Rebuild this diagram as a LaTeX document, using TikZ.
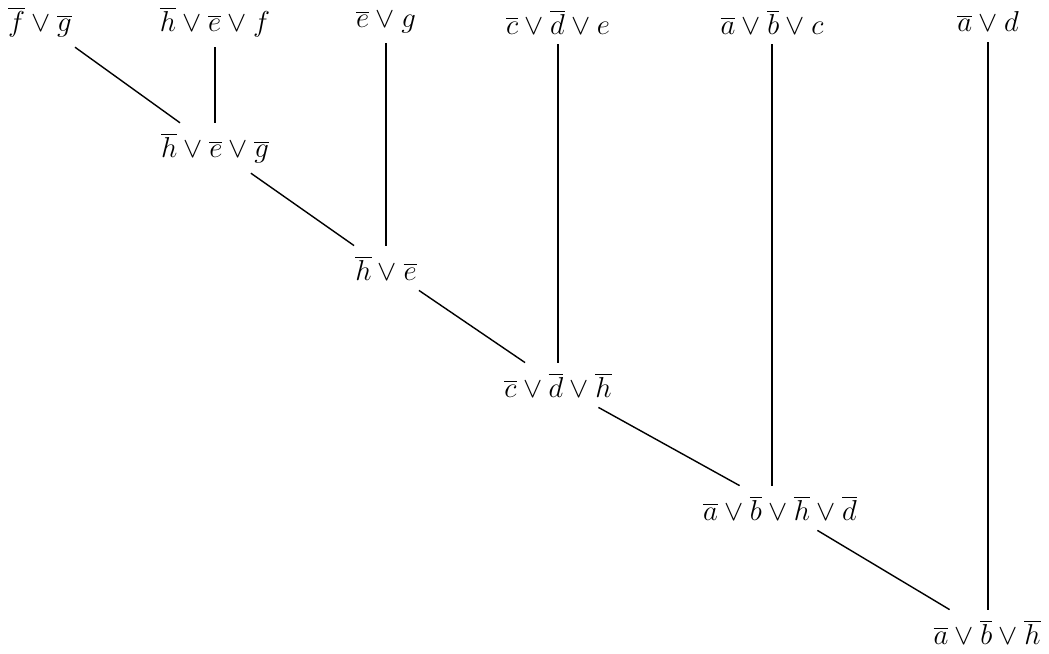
\documentclass[tikz,border=0pt]{standalone}
\begin{document}
\begin{tikzpicture}[x=0.5pt,y=-0.5pt,
  cl/.style={inner sep=5pt,font=\fontsize{13.5}{16}\selectfont},
  edge/.style={draw=black,line width=0.7pt}]
\useasboundingbox (0,0) rectangle (1049,653);
\newcommand{\ov}[1]{\overline{#1}}
\node[cl] (fg)   at (40,22)  {$\ov{f}\vee\ov{g}$};
\node[cl] (hef)  at (215,22) {$\ov{h}\vee\ov{e}\vee f$};
\node[cl] (eg)   at (386,22) {$\ov{e}\vee g$};
\node[cl] (cde)  at (558,22) {$\ov{c}\vee\ov{d}\vee e$};
\node[cl] (abc)  at (772,22) {$\ov{a}\vee\ov{b}\vee c$};
\node[cl] (ad)   at (988,22) {$\ov{a}\vee d$};
\node[cl] (heg)  at (215,148) {$\ov{h}\vee\ov{e}\vee\ov{g}$};
\node[cl] (he)   at (386,268) {$\ov{h}\vee\ov{e}$};
\node[cl] (cdh)  at (558,385) {$\ov{c}\vee\ov{d}\vee\ov{h}$};
\node[cl] (abhd) at (780,508) {$\ov{a}\vee\ov{b}\vee\ov{h}\vee\ov{d}$};
\node[cl] (abh)  at (987,632) {$\ov{a}\vee\ov{b}\vee\ov{h}$};
\draw[edge] (fg) -- (heg);
\draw[edge] (hef) -- (heg);
\draw[edge] (heg) -- (he);
\draw[edge] (eg) -- (he);
\draw[edge] (he) -- (cdh);
\draw[edge] (cde) -- (cdh);
\draw[edge] (cdh) -- (abhd);
\draw[edge] (abc.south) -- (abc.south |- abhd.north);
\draw[edge] (abhd) -- (abh);
\draw[edge] (ad.south) -- (ad.south |- abh.north);
\end{tikzpicture}
\end{document}
